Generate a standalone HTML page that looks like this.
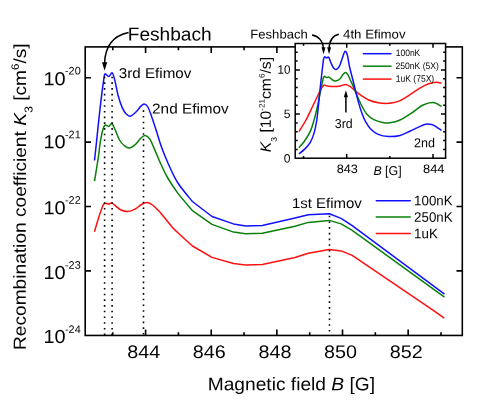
<!DOCTYPE html>
<html><head><meta charset="utf-8"><title>Recombination coefficient</title>
<style>
html,body{margin:0;padding:0;background:#fff;}
body{width:485px;height:408px;overflow:hidden;font-family:"Liberation Sans",sans-serif;}
svg{display:block;}
text{font-family:"Liberation Sans",sans-serif;}
</style></head><body>
<svg width="485" height="408" viewBox="0 0 485 408" font-family="Liberation Sans, sans-serif">
<rect width="485" height="408" fill="#fff"/>
<g fill="none" stroke-width="1.5" stroke-linejoin="round" stroke-linecap="butt">
<path d="M94.40,231.80C95.07,229.57 97.10,222.50 98.40,218.40C99.70,214.30 101.28,209.60 102.20,207.20C103.12,204.80 103.40,204.67 103.90,204.00C104.40,203.33 104.43,203.20 105.20,203.20C105.97,203.20 107.37,204.02 108.50,204.00C109.63,203.98 110.75,202.72 112.00,203.10C113.25,203.48 114.50,205.15 116.00,206.30C117.50,207.45 119.05,209.13 121.00,210.00C122.95,210.87 125.45,211.60 127.70,211.50C129.95,211.40 132.33,210.48 134.50,209.40C136.67,208.32 139.20,205.97 140.70,205.00C142.20,204.03 142.43,204.02 143.50,203.60C144.57,203.18 145.60,202.27 147.10,202.50C148.60,202.73 150.82,203.85 152.50,205.00C154.18,206.15 155.73,207.95 157.20,209.40C158.67,210.85 158.90,210.85 161.30,213.70C163.70,216.55 168.88,223.37 171.60,226.50C174.32,229.63 174.13,229.25 177.60,232.50C181.07,235.75 189.93,243.75 192.40,246.00L212.00,257.40L233.50,263.50L245.60,264.90L262.30,264.50L295.00,257.50L308.30,253.20L329.30,249.40L341.10,250.90L352.20,255.40L431.10,308.90L444.30,318.10" stroke="#ff1010"/>
<path d="M94.50,181.10C95.15,177.05 97.48,162.98 98.40,156.80C99.32,150.62 99.32,148.30 100.00,144.00C100.68,139.70 101.67,134.13 102.50,131.00C103.33,127.87 103.97,125.97 105.00,125.20C106.03,124.43 107.57,126.68 108.70,126.40C109.83,126.12 110.75,122.98 111.80,123.50C112.85,124.02 113.72,126.75 115.00,129.50C116.28,132.25 117.97,137.33 119.50,140.00C121.03,142.67 122.57,144.17 124.20,145.50C125.83,146.83 127.42,148.18 129.30,148.00C131.18,147.82 133.60,146.03 135.50,144.40C137.40,142.77 139.08,139.67 140.70,138.20C142.32,136.73 143.65,135.42 145.20,135.60C146.75,135.78 148.35,136.80 150.00,139.30C151.65,141.80 153.22,146.32 155.10,150.60C156.98,154.88 159.23,160.52 161.30,165.00C163.37,169.48 164.78,172.85 167.50,177.50C170.22,182.15 173.45,187.38 177.60,192.90C181.75,198.42 189.93,207.65 192.40,210.60L212.00,224.40L233.50,232.10L245.60,233.80L262.30,233.30L295.00,226.20L308.30,222.40L329.30,220.40L341.10,223.90L352.20,230.40L444.50,297.20" stroke="#0a800a"/>
<path d="M94.50,160.50C94.80,157.75 95.62,150.43 96.30,144.00C96.98,137.57 97.83,129.03 98.60,121.90C99.37,114.77 100.07,108.08 100.90,101.20C101.73,94.32 102.92,85.17 103.60,80.60C104.28,76.03 104.15,74.48 105.00,73.80C105.85,73.12 107.50,76.67 108.70,76.50C109.90,76.33 111.17,72.12 112.20,72.80C113.23,73.48 113.93,76.90 114.90,80.60C115.87,84.30 116.80,90.53 118.00,95.00C119.20,99.47 120.73,104.23 122.10,107.40C123.47,110.57 124.82,112.52 126.20,114.00C127.58,115.48 128.68,116.72 130.40,116.30C132.12,115.88 134.78,113.15 136.50,111.50C138.22,109.85 139.42,107.67 140.70,106.40C141.98,105.13 143.00,103.80 144.20,103.90C145.40,104.00 146.60,104.70 147.90,107.00C149.20,109.30 150.63,113.85 152.00,117.70C153.37,121.55 154.55,125.30 156.10,130.10C157.65,134.90 159.40,141.18 161.30,146.50C163.20,151.82 164.78,156.00 167.50,162.00C170.22,168.00 173.45,175.92 177.60,182.50C181.75,189.08 189.93,198.33 192.40,201.50L212.00,216.50L233.50,223.90L245.60,226.00L262.30,225.40L295.00,218.10L308.30,214.70L329.30,213.80L341.10,218.40L352.20,225.70L444.50,294.10" stroke="#1010ff"/>
</g>
<g stroke="#000" stroke-width="1.6" stroke-dasharray="1.6 4.11" fill="none">
<path d="M104.6,335.20000000000005V75"/>
<path d="M112.1,335.20000000000005V74"/>
<path d="M143.5,334.6V108"/>
<path d="M329.5,331.5V214.5"/>
</g>
<g stroke="#000" stroke-width="1.6" fill="none" stroke-linecap="butt">
<rect x="85.2" y="46.9" width="377.1" height="288.55"/>
<path d="M112.78,335.45v-3.3M112.78,46.9v3.3M145.60,335.45v-6.0M145.60,46.9v6.0M178.42,335.45v-3.3M178.42,46.9v3.3M211.24,335.45v-6.0M211.24,46.9v6.0M244.06,335.45v-3.3M244.06,46.9v3.3M276.88,335.45v-6.0M276.88,46.9v6.0M309.70,335.45v-3.3M309.70,46.9v3.3M342.52,335.45v-6.0M342.52,46.9v6.0M375.34,335.45v-3.3M375.34,46.9v3.3M408.16,335.45v-6.0M408.16,46.9v6.0M440.98,335.45v-3.3M440.98,46.9v3.3M85.2,270.90h5.8M462.3,270.90h-5.8M85.2,206.50h5.8M462.3,206.50h-5.8M85.2,142.10h5.8M462.3,142.10h-5.8M85.2,77.70h5.8M462.3,77.70h-5.8"/>
</g>
<g fill="none" stroke-width="1.5">
<path d="M375.7,200.7H410.8" stroke="#1010ff"/>
<path d="M375.7,217.1H410.8" stroke="#0a800a"/>
<path d="M375.7,233.5H410.8" stroke="#ff1010"/>
</g>
<rect x="295.2" y="43.5" width="150.40000000000003" height="114.69999999999999" fill="#fff"/>
<g fill="none" stroke-width="1.5" stroke-linejoin="round">
<path d="M298.90,131.60C300.08,129.67 303.68,124.27 306.00,120.00C308.32,115.73 310.55,110.67 312.80,106.00C315.05,101.33 317.93,95.13 319.50,92.00C321.07,88.87 321.42,88.37 322.20,87.20C322.98,86.03 323.40,85.18 324.20,85.00C325.00,84.82 325.70,85.87 327.00,86.10C328.30,86.33 330.33,86.35 332.00,86.40C333.67,86.45 335.42,86.53 337.00,86.40C338.58,86.27 340.05,85.92 341.50,85.60C342.95,85.28 344.23,84.33 345.70,84.50C347.17,84.67 348.68,85.52 350.30,86.60C351.92,87.68 353.43,89.40 355.40,91.00C357.37,92.60 359.77,94.65 362.10,96.20C364.43,97.75 366.72,99.20 369.40,100.30C372.08,101.40 375.50,102.27 378.20,102.80C380.90,103.33 383.15,103.50 385.60,103.50C388.05,103.50 390.50,103.28 392.90,102.80C395.30,102.32 397.45,101.77 400.00,100.60C402.55,99.43 404.97,97.85 408.20,95.80C411.43,93.75 416.00,90.32 419.40,88.30C422.80,86.28 425.82,84.72 428.60,83.70C431.38,82.68 433.93,82.28 436.10,82.20C438.27,82.12 440.68,83.03 441.60,83.20" stroke="#ff1010"/>
<path d="M298.90,147.70C299.82,146.63 302.50,144.02 304.40,141.30C306.30,138.58 308.67,135.02 310.30,131.40C311.93,127.78 313.05,123.58 314.20,119.60C315.35,115.62 316.35,111.27 317.20,107.50C318.05,103.73 318.62,100.32 319.30,97.00C319.98,93.68 320.67,90.63 321.30,87.60C321.93,84.57 322.60,80.68 323.10,78.80C323.60,76.92 323.73,76.50 324.30,76.30C324.87,76.10 325.77,77.48 326.50,77.60C327.23,77.72 327.78,76.68 328.70,77.00C329.62,77.32 330.85,78.82 332.00,79.50C333.15,80.18 334.25,81.22 335.60,81.10C336.95,80.98 338.87,79.92 340.10,78.80C341.33,77.68 342.08,75.43 343.00,74.40C343.92,73.37 344.75,72.48 345.60,72.60C346.45,72.72 347.32,73.87 348.10,75.10C348.88,76.33 349.32,77.83 350.30,80.00C351.28,82.17 352.78,85.28 354.00,88.10C355.22,90.92 356.25,93.83 357.60,96.90C358.95,99.97 360.50,103.55 362.10,106.50C363.70,109.45 365.25,112.40 367.20,114.60C369.15,116.80 371.23,118.40 373.80,119.70C376.37,121.00 379.90,121.88 382.60,122.40C385.30,122.92 387.10,123.20 390.00,122.80C392.90,122.40 396.03,121.88 400.00,120.00C403.97,118.12 409.95,114.00 413.80,111.50C417.65,109.00 419.85,106.48 423.10,105.00C426.35,103.52 430.22,102.35 433.30,102.60C436.38,102.85 440.22,105.85 441.60,106.50" stroke="#0a800a"/>
<path d="M298.90,153.80C299.82,153.07 302.50,151.30 304.40,149.40C306.30,147.50 308.67,145.20 310.30,142.40C311.93,139.60 313.12,136.33 314.20,132.60C315.28,128.87 316.03,125.10 316.80,120.00C317.57,114.90 318.20,107.65 318.80,102.00C319.40,96.35 319.80,91.68 320.40,86.10C321.00,80.52 321.88,72.93 322.40,68.50C322.92,64.07 323.15,61.45 323.50,59.50C323.85,57.55 323.98,57.07 324.50,56.80C325.02,56.53 325.90,57.83 326.60,57.90C327.30,57.97 327.98,56.38 328.70,57.20C329.42,58.02 330.12,61.05 330.90,62.80C331.68,64.55 332.53,66.58 333.40,67.70C334.27,68.82 335.12,69.73 336.10,69.50C337.08,69.27 338.27,68.18 339.30,66.30C340.33,64.42 341.35,60.70 342.30,58.20C343.25,55.70 344.15,51.80 345.00,51.30C345.85,50.80 346.63,52.58 347.40,55.20C348.17,57.82 348.68,62.87 349.60,67.00C350.52,71.13 351.93,76.12 352.90,80.00C353.87,83.88 354.48,86.62 355.40,90.30C356.32,93.98 357.28,98.18 358.40,102.10C359.52,106.02 360.88,110.50 362.10,113.80C363.32,117.10 364.23,119.32 365.70,121.90C367.17,124.48 368.82,127.22 370.90,129.30C372.98,131.38 375.27,133.20 378.20,134.40C381.13,135.60 384.87,136.33 388.50,136.50C392.13,136.67 396.45,136.28 400.00,135.40C403.55,134.52 406.53,132.67 409.80,131.20C413.07,129.73 417.23,127.68 419.60,126.60C421.97,125.52 422.68,125.13 424.00,124.70C425.32,124.27 426.33,124.05 427.50,124.00C428.67,123.95 429.87,124.13 431.00,124.40C432.13,124.67 432.53,124.58 434.30,125.60C436.07,126.62 440.38,129.68 441.60,130.50" stroke="#1010ff"/>
</g>
<g stroke="#000" stroke-width="1.5" fill="none">
<rect x="295.2" y="43.5" width="150.40000000000003" height="114.69999999999999"/>
<path d="M303.55,158.2v-2.3M303.55,43.5v2.3M346.70,158.2v-4.2M346.70,43.5v4.2M389.85,158.2v-2.3M389.85,43.5v2.3M433.00,158.2v-4.2M433.00,43.5v4.2M295.2,149.46h2.5M445.6,149.46h-2.5M295.2,140.62h2.5M445.6,140.62h-2.5M295.2,131.78h2.5M445.6,131.78h-2.5M295.2,122.94h2.5M445.6,122.94h-2.5M295.2,114.10h4.6M445.6,114.10h-4.6M295.2,105.26h2.5M445.6,105.26h-2.5M295.2,96.42h2.5M445.6,96.42h-2.5M295.2,87.58h2.5M445.6,87.58h-2.5M295.2,78.74h2.5M445.6,78.74h-2.5M295.2,69.90h4.6M445.6,69.90h-4.6M295.2,61.06h2.5M445.6,61.06h-2.5M295.2,52.22h2.5M445.6,52.22h-2.5"/>
</g>
<g fill="none" stroke-width="1.5">
<path d="M362.8,53.7H391.5" stroke="#1010ff"/>
<path d="M362.8,66.2H391.5" stroke="#0a800a"/>
<path d="M362.8,79.1H391.5" stroke="#ff1010"/>
</g>
<g stroke="#000" stroke-width="1.5" fill="none">
<path d="M128.6,32.6C112,36 105.2,48 104.6,63"/>
<path d="M312.0,35.0C318.5,36 323.2,41 323.4,49"/>
<path d="M338.8,34.3C332.6,35.6 329.3,41 329.1,49"/>
<path d="M345.9,112.4V95"/>
</g>
<g fill="#000">
<path d="M104.6,70.8L102.0,62.2H107.2Z"/>
<path d="M323.5,54.2L321.5,47.3H325.5Z"/>
<path d="M329.1,54.2L327.1,47.3H331.1Z"/>
<path d="M345.9,90.2L343.8,97.2H348.0Z"/>
</g>
<g opacity="0.99">
<text transform="translate(127.70,40.40) rotate(0.03) scale(1.0229,1)" font-size="18.7" fill="#000">Feshbach</text>
<text transform="translate(118.80,78.00) rotate(0.03) scale(1.0697,1)" font-size="14.2" fill="#000">3rd Efimov</text>
<text transform="translate(152.10,113.40) rotate(0.03) scale(1.0807,1)" font-size="14.2" fill="#000">2nd Efimov</text>
<text transform="translate(291.90,207.90) rotate(0.03) scale(1.0557,1)" font-size="14.2" fill="#000">1st Efimov</text>
<text transform="translate(414.10,205.20) rotate(0.03) scale(0.9723,1)" font-size="13.7" fill="#000">100nK</text>
<text transform="translate(414.10,221.70) rotate(0.03) scale(0.9723,1)" font-size="13.7" fill="#000">250nK</text>
<text transform="translate(414.10,238.20) rotate(0.03) scale(0.9723,1)" font-size="13.7" fill="#000">1uK</text>
<text transform="translate(127.20,358.00) rotate(0.03) scale(1.0857,1)" font-size="18.2" fill="#000">844</text>
<text transform="translate(192.84,358.00) rotate(0.03) scale(1.0857,1)" font-size="18.2" fill="#000">846</text>
<text transform="translate(258.48,358.00) rotate(0.03) scale(1.0857,1)" font-size="18.2" fill="#000">848</text>
<text transform="translate(324.12,358.00) rotate(0.03) scale(1.0857,1)" font-size="18.2" fill="#000">850</text>
<text transform="translate(389.76,358.00) rotate(0.03) scale(1.0857,1)" font-size="18.2" fill="#000">852</text>
<text transform="translate(43.50,85.30) rotate(0.03) scale(1.0557,1)" font-size="18.9" fill="#000">10</text>
<text transform="translate(65.00,74.60) rotate(0.03) scale(0.9890,1)" font-size="11.0" fill="#000">-20</text>
<text transform="translate(43.50,148.30) rotate(0.03) scale(1.0557,1)" font-size="18.9" fill="#000">10</text>
<text transform="translate(65.00,138.30) rotate(0.03) scale(0.9890,1)" font-size="11.0" fill="#000">-21</text>
<text transform="translate(43.50,214.30) rotate(0.03) scale(1.0557,1)" font-size="18.9" fill="#000">10</text>
<text transform="translate(65.00,203.80) rotate(0.03) scale(0.9890,1)" font-size="11.0" fill="#000">-22</text>
<text transform="translate(43.50,279.00) rotate(0.03) scale(1.0557,1)" font-size="18.9" fill="#000">10</text>
<text transform="translate(65.00,268.80) rotate(0.03) scale(0.9890,1)" font-size="11.0" fill="#000">-23</text>
<text transform="translate(43.50,343.00) rotate(0.03) scale(1.0557,1)" font-size="18.9" fill="#000">10</text>
<text transform="translate(65.00,332.90) rotate(0.03) scale(0.9890,1)" font-size="11.0" fill="#000">-24</text>
<text transform="translate(207.70,390.2) rotate(0.03) scale(1.0540,1)" font-size="18.2" fill="#000" style="white-space:pre"><tspan>Magnetic field </tspan><tspan font-style="italic">B</tspan><tspan> [G]</tspan></text>
<text transform="translate(25.8,350.00) rotate(-89.97) scale(1.0949,1)" fill="#000" style="white-space:pre"><tspan font-size="17.5" dy="0">Recombination coefficient </tspan><tspan font-size="17.5" dy="0" font-style="italic">K</tspan><tspan font-size="11.5" dy="6.6">3</tspan><tspan font-size="17.5" dy="-6.6"> [cm</tspan><tspan font-size="10.5" dy="-7.2">6</tspan><tspan font-size="17.5" dy="7.2">/s]</tspan></text>
<text transform="translate(250.20,38.50) rotate(0.03) scale(1.0429,1)" font-size="12.6" fill="#000">Feshbach</text>
<text transform="translate(343.10,38.50) rotate(0.03) scale(1.0503,1)" font-size="12.6" fill="#000">4th Efimov</text>
<text transform="translate(395.70,56.10) rotate(0.03) scale(0.9145,1)" font-size="9.3" fill="#000">100nK</text>
<text transform="translate(395.50,68.90) rotate(0.03) scale(0.9222,1)" font-size="9.3" fill="#000">250nK (5X)</text>
<text transform="translate(395.70,81.80) rotate(0.03) scale(0.9193,1)" font-size="9.3" fill="#000">1uK (75X)</text>
<text transform="translate(334.80,127.90) rotate(0.03) scale(0.9515,1)" font-size="13" fill="#000">3rd</text>
<text transform="translate(414.00,147.30) rotate(0.03) scale(0.9683,1)" font-size="13" fill="#000">2nd</text>
<text transform="translate(336.70,173.00) rotate(0.03) scale(1.0377,1)" font-size="12.2" fill="#000">843</text>
<text transform="translate(423.00,173.00) rotate(0.03) scale(1.0525,1)" font-size="12.2" fill="#000">844</text>
<text transform="translate(277.60,73.70) rotate(0.03) scale(0.9502,1)" font-size="12.2" fill="#000">10</text>
<text transform="translate(283.80,118.10) rotate(0.03) scale(0.9916,1)" font-size="12.2" fill="#000">5</text>
<text transform="translate(283.80,162.50) rotate(0.03) scale(0.9916,1)" font-size="12.2" fill="#000">0</text>
<text transform="translate(373.40,174.9) rotate(0.03) scale(0.9677,1)" font-size="12.8" fill="#000" style="white-space:pre"><tspan font-style="italic">B</tspan><tspan> [G]</tspan></text>
<text transform="translate(270.7,152.20) rotate(-89.97) scale(1.0472,1)" fill="#000" style="white-space:pre"><tspan font-size="15" dy="0" font-style="italic">K</tspan><tspan font-size="8.2" dy="6.0">3</tspan><tspan font-size="15" dy="-6.0"> [10</tspan><tspan font-size="7.8" dy="-6.2">-21</tspan><tspan font-size="15" dy="6.2">cm</tspan><tspan font-size="7.8" dy="-6.2">6</tspan><tspan font-size="15" dy="6.2">/s]</tspan></text>
</g>
</svg>
</body></html>
